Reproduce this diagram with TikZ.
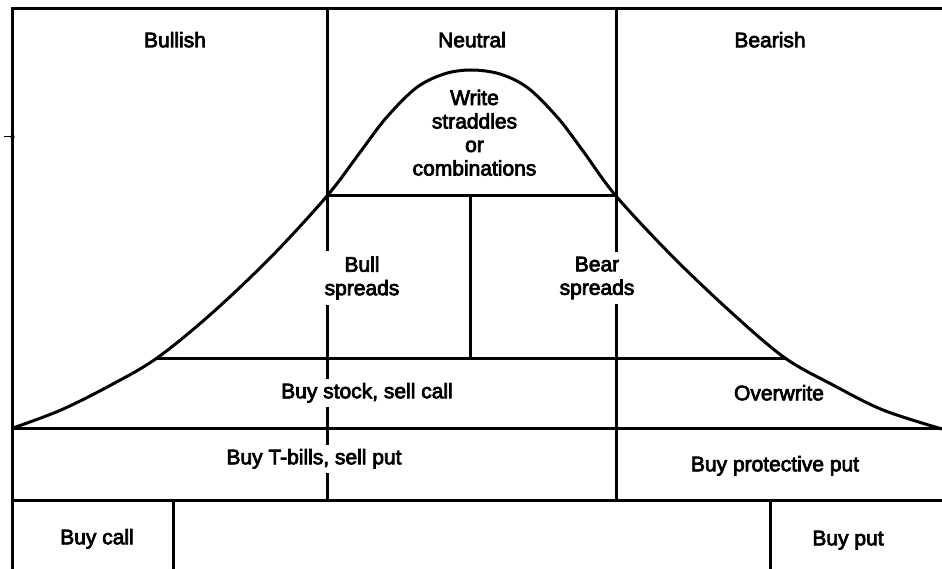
\documentclass[tikz,border=0pt]{standalone}
\usepackage{fontspec}
\font\labraw="Liberation Sans:embolden=3.5" at 21pt
\begin{document}
\begin{tikzpicture}[x=1pt,y=-1pt,
  rule/.style={line width=3pt, line cap=rect},
  curve/.style={line width=3pt, line cap=round, line join=round},
  labbase/.style={font={\labraw\baselineskip=23.5pt}, align=center, fill=white},
  lab/.style={labbase, inner xsep=3pt, inner ysep=4pt, text height=15pt, text depth=4.5pt},
  mlab/.style={labbase, inner xsep=3pt, inner ysep=5pt}]
\useasboundingbox (0,0) rectangle (942,569);
% frame
\coordinate (TL) at (12.5,9);
\coordinate (TR) at (943,9);
\coordinate (BL) at (12.5,570);
\draw[rule] (BL) -- (TL) -- (TR);
\coordinate (tk1) at (4,137);
\coordinate (tk2) at (12.5,137);
\draw[line width=1pt] (tk1) -- (tk2);
\fill (tk2) circle (2.2pt);
% main verticals
\coordinate (V1t) at (327,9);
\coordinate (V1b) at (327,500);
\coordinate (V2t) at (616,9);
\coordinate (V2b) at (616,500);
\draw[rule] (V1t) -- (V1b);
\draw[rule] (V2t) -- (V2b);
% horizontals
\coordinate (H1l) at (327,196);
\coordinate (H1r) at (616,196);
\draw[rule] (H1l) -- (H1r);
\coordinate (Vm) at (470,196);
\coordinate (Vmb) at (470,358);
\draw[rule] (Vm) -- (Vmb);
\coordinate (H2l) at (157,358);
\coordinate (H2r) at (785,358);
\draw[rule] (H2l) -- (H2r);
\coordinate (H3l) at (12.5,428);
\coordinate (H3r) at (943,428);
\draw[rule] (H3l) -- (H3r);
\coordinate (H4l) at (12.5,500);
\coordinate (H4r) at (943,500);
\draw[rule] (H4l) -- (H4r);
\coordinate (V3t) at (173,500);
\coordinate (V3b) at (173,570);
\draw[rule] (V3t) -- (V3b);
\coordinate (V4t) at (770,500);
\coordinate (V4b) at (770,570);
\draw[rule] (V4t) -- (V4b);
% bell curve
\draw[curve] plot[smooth, tension=0.55] coordinates {
 (13,428) (61,410) (111,385) (157,358) (211,314) (271,257) (327,196)
 (361,151) (386,118) (416,88) (444,74) (471,70) (500,74) (528,88)
 (558,118) (583,151) (616,196) (673,257) (733,314) (785,358)
 (833,385) (883,410) (942,429)};
% labels
\node[lab] (bull) at (175,42) {Bullish};
\node[lab] (neut) at (472,42) {Neutral};
\node[lab] (bear) at (770,42) {Bearish};
\node[mlab, fill=none] (write) at (474.5,132.7) {Write\\straddles\\or\\combinations};
\node[mlab] (bulls) at (362,278) {Bull\\spreads};
\node[mlab] (bears) at (597,278) {Bear\\spreads};
\node[lab] (bsc) at (367,393) {Buy stock, sell call};
\node[lab, fill=none] (ow) at (779,395) {Overwrite};
\node[lab] (tb) at (314,459) {Buy T-bills, sell put};
\node[lab] (bpp) at (775,466) {Buy protective put};
\node[lab] (bc) at (97,539) {Buy call};
\node[lab] (bp) at (848,540) {Buy put};
\end{tikzpicture}
\end{document}
